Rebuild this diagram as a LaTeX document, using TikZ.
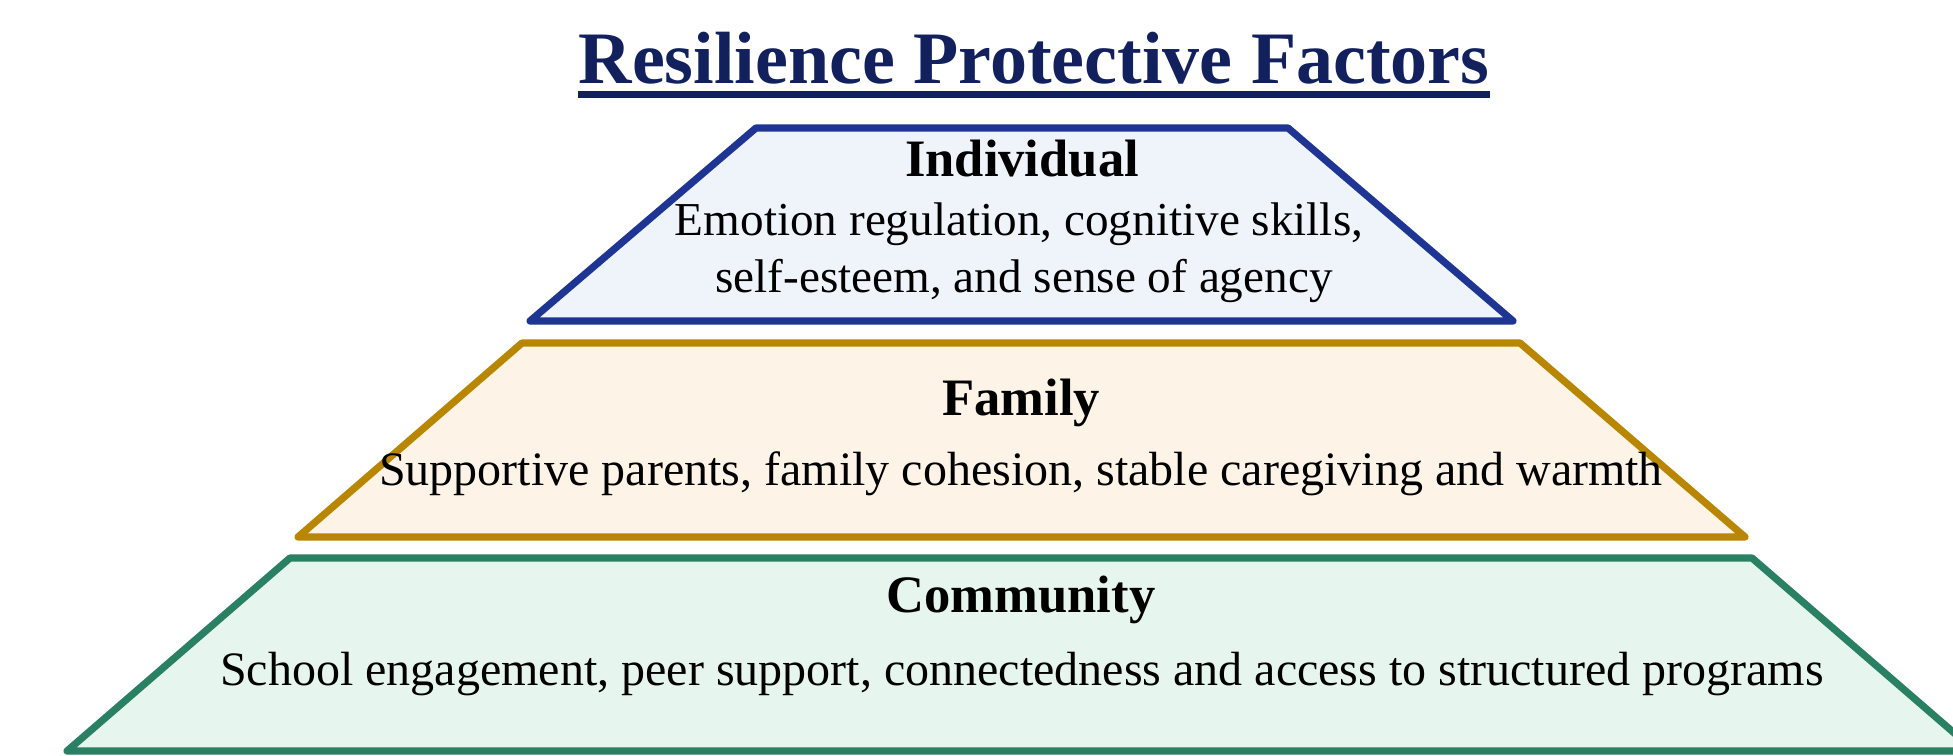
\documentclass[tikz,border=0pt]{standalone}
\usepackage{fontspec}
\setmainfont{Liberation Serif}
\usetikzlibrary{calc}

% palette
\definecolor{titlenavy}{RGB}{18,33,94}
\definecolor{indline}{RGB}{31,53,148}
\definecolor{indfill}{RGB}{239,244,251}
\definecolor{famline}{RGB}{184,134,0}
\definecolor{famfill}{RGB}{253,243,231}
\definecolor{comline}{RGB}{42,128,98}
\definecolor{comfill}{RGB}{230,245,238}

\begin{document}
\begin{tikzpicture}[
    x=0.5pt, y=-0.5pt,
    tier/.style={line width=3.6pt, line join=round},
    txt/.style={inner sep=0pt, anchor=base, text=black},
    heading/.style={txt, font=\bfseries\fontsize{26.3}{31}\selectfont},
    desc/.style={txt, font=\fontsize{23.6}{28}\selectfont},
    descwide/.style={txt, font=\fontsize{24}{28}\selectfont},
  ]
  \useasboundingbox (0,0) rectangle (1953,755);

  % the three tiers of the pyramid
  \begin{scope}
    \clip (0,0) rectangle (1953,755);
    \draw[tier, draw=indline, fill=indfill]
      (756,128) -- (1288,128) -- (1513,321) -- (530,321) -- cycle;
    \draw[tier, draw=famline, fill=famfill]
      (522,343) -- (1520,343) -- (1745,537) -- (298,537) -- cycle;
    \draw[tier, draw=comline, fill=comfill]
      (290,558) -- (1752,558) -- (1975,751) -- (67,751) -- cycle;
  \end{scope}

  % title with underline
  \node[inner sep=0pt, anchor=base, text=titlenavy,
        font=\bfseries\fontsize{37}{44}\selectfont] (title) at (1034,83)
    {Resilience Protective Factors};
  \draw[titlenavy, line width=3.5pt]
    ($(title.base west)+(0,11.5)$) -- ($(title.base east)+(0,11.5)$);

  % individual tier
  \node[heading] (indhead) at (1022,176) {Individual};
  \node[desc] (inddescA) at (1019,235) {Emotion regulation, cognitive skills,};
  \node[desc] (inddescB) at (1024,292) {self-esteem, and sense of agency};

  % family tier
  \node[heading] (famhead) at (1021,415) {Family};
  \node[descwide] (famdesc) at (1021,485)
    {Supportive parents, family cohesion, stable caregiving and warmth};

  % community tier
  \node[heading] (comhead) at (1021,612) {Community};
  \node[descwide] (comdesc) at (1022,685)
    {School engagement, peer support, connectedness and access to structured programs};
\end{tikzpicture}
\end{document}
